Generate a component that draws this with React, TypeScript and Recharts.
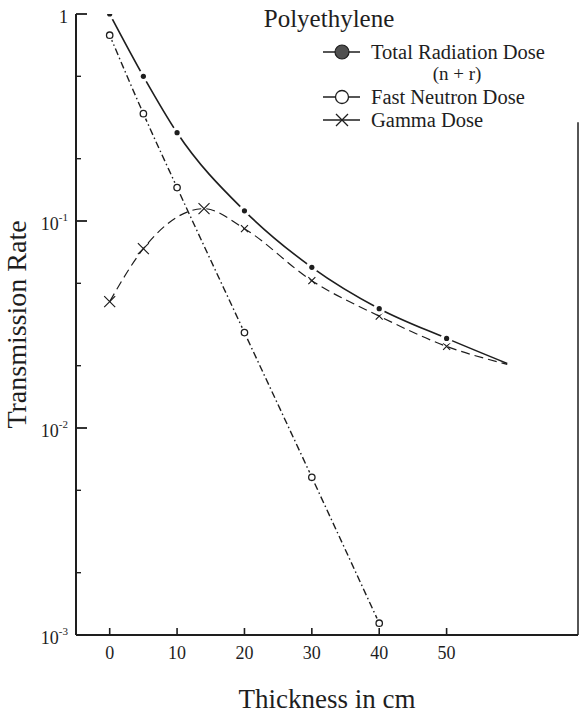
import { ComposedChart, Legend, Line, ReferenceLine, XAxis, YAxis } from 'recharts'

const FONT = "'Liberation Serif', 'Times New Roman', serif"
const INK = '#1e1e1e'

// thickness (cm) / transmission rate
const totalThickness = [0, 5, 10, 20, 30, 40, 50]
const totalRate = [1.0, 0.5, 0.267, 0.112, 0.0597, 0.0377, 0.0271]
const totalTail = [59, 0.0205]

const neutronThickness = [0, 5, 10, 20, 30, 40]
const neutronRate = [0.79, 0.33, 0.145, 0.0289, 0.00578, 0.00114]

const gammaThickness = [0, 5, 14, 20, 30, 40, 50]
const gammaRate = [0.0408, 0.0735, 0.1147, 0.0918, 0.0515, 0.0347, 0.0248]
const gammaTail = [59, 0.0203]

const seriesNames = ['Total Radiation Dose', 'Fast Neutron Dose', 'Gamma Dose']
const totalNote = '(n + r)'
const chartTitle = 'Polyethylene'

const thicknessTicks = [0, 10, 20, 30, 40, 50]
const rateTicks = [1, 0.5, 0.2, 0.1, 0.05, 0.02, 0.01, 0.005, 0.002, 0.001]
const rateMajor = [1, 0.1, 0.01, 0.001]
const rateLabelBase = ['1', '10', '10', '10']
const rateLabelExp = ['', '-1', '-2', '-3']
const rightTicks = [0.2, 0.1, 0.05, 0.02, 0.01, 0.005, 0.002]

const toRows = (xs: number[], ys: number[], tail?: number[]) => {
  const rows = xs.map((x, i) => ({ x, y: ys[i] }))
  if (tail) rows.push({ x: tail[0], y: tail[1] })
  return rows
}

const totalData = toRows(totalThickness, totalRate, totalTail)
const neutronData = toRows(neutronThickness, neutronRate)
const gammaData = toRows(gammaThickness, gammaRate, gammaTail)

const majorIndex = (v: number) => rateMajor.findIndex((m) => Math.abs(m - v) / m < 1e-6)

const LeftTick = (props: any) => {
  const { x, y, payload } = props
  const mi = majorIndex(payload.value)
  if (mi < 0) {
    return <line x1={x} x2={x + 5} y1={y} y2={y} stroke={INK} strokeWidth={1.4} />
  }
  return (
    <g>
      <line x1={x} x2={x + 11} y1={y} y2={y} stroke={INK} strokeWidth={1.8} />
      <text x={x - 8} y={y + 9} textAnchor="end" fontFamily={FONT} fontSize={18} fill={INK}>
        <tspan>{rateLabelBase[mi]}</tspan>
        {rateLabelExp[mi] && (
          <tspan fontSize={11} dy={-9}>
            {rateLabelExp[mi]}
          </tspan>
        )}
      </text>
    </g>
  )
}

const RightTick = (props: any) => {
  const { x, y, payload } = props
  const len = majorIndex(payload.value) < 0 ? 4 : 8
  return <line x1={x} x2={x - len} y1={y} y2={y} stroke={INK} strokeWidth={1.3} />
}

const BottomTick = (props: any) => {
  const { x, y, payload } = props
  return (
    <g>
      <line x1={x} x2={x} y1={y} y2={y - 7} stroke={INK} strokeWidth={1.6} />
      <text x={x} y={y + 24} textAnchor="middle" fontFamily={FONT} fontSize={18} fill={INK}>
        {payload.value}
      </text>
    </g>
  )
}

const XTitle = (props: any) => {
  const vb = props.viewBox || { x: 76, y: 635, width: 502 }
  return (
    <text x={vb.x + vb.width / 2} y={vb.y + 73} textAnchor="middle" fontFamily={FONT} fontSize={27} fill={INK}>
      Thickness in cm
    </text>
  )
}

const YTitle = (props: any) => {
  const vb = props.viewBox || { x: 0, y: 14, height: 621 }
  const cx = (vb.x || 0) + 26
  const cy = vb.y + vb.height / 2
  return (
    <text x={cx} y={cy} transform={`rotate(-90 ${cx} ${cy})`} textAnchor="middle" fontFamily={FONT} fontSize={28} fill={INK}>
      Transmission Rate
    </text>
  )
}

const TotalDot = (props: any) => {
  const { cx, cy, index } = props
  if (index >= totalThickness.length) return <g key={`td${index}`} />
  return (
    <g key={`td${index}`}>
      <circle cx={cx} cy={cy} r={6} fill="#fff" />
      <circle cx={cx} cy={cy} r={2.6} fill={INK} />
    </g>
  )
}

const NeutronDot = (props: any) => {
  const { cx, cy, index } = props
  return (
    <g key={`nd${index}`}>
      <circle cx={cx} cy={cy} r={5.5} fill="#fff" />
      <circle cx={cx} cy={cy} r={3.2} fill="#fff" stroke={INK} strokeWidth={1.3} />
    </g>
  )
}

const GammaDot = (props: any) => {
  const { cx, cy, index } = props
  if (index >= gammaThickness.length) return <g key={`gd${index}`} />
  const h = index <= 2 ? 5.5 : 3.5
  return (
    <path
      key={`gd${index}`}
      d={`M${cx - h},${cy - h}L${cx + h},${cy + h}M${cx - h},${cy + h}L${cx + h},${cy - h}`}
      stroke={INK}
      strokeWidth={1.2}
    />
  )
}

const LegendBox = () => {
  const mx = 342
  const rows = [52, 97, 120]
  return (
    <svg width={580} height={134} style={{ display: 'block' }}>
      <text x={329} y={27} textAnchor="middle" fontFamily={FONT} fontSize={25} fill={INK}>
        {chartTitle}
      </text>
      {rows.map((ry, i) => (
        <g key={i}>
          <line x1={323} x2={360} y1={ry} y2={ry} stroke={INK} strokeWidth={1.4} />
          {i === 0 && <circle cx={mx} cy={ry} r={7} fill="#505050" stroke={INK} strokeWidth={1.2} />}
          {i === 1 && <circle cx={mx} cy={ry} r={6.5} fill="#fff" stroke={INK} strokeWidth={1.3} />}
          {i === 2 && (
            <path
              d={`M${mx - 6},${ry - 6}L${mx + 6},${ry + 6}M${mx - 6},${ry + 6}L${mx + 6},${ry - 6}`}
              stroke={INK}
              strokeWidth={1.3}
            />
          )}
          <text x={371} y={ry + 7} fontFamily={FONT} fontSize={20.5} fill={INK}>
            {seriesNames[i]}
          </text>
        </g>
      ))}
      <text x={457} y={80} textAnchor="middle" fontFamily={FONT} fontSize={19} fill={INK}>
        {totalNote}
      </text>
    </svg>
  )
}

export default function App() {
  return (
    <div style={{ position: 'absolute', left: 0, top: 0, width: 580, height: 714, background: '#fff' }}>
      <ComposedChart width={580} height={714} margin={{ top: 14, right: 2, bottom: 0, left: 0 }}>
        <XAxis
          type="number"
          dataKey="x"
          domain={[-5, 69.5]}
          ticks={thicknessTicks}
          interval={0}
          height={79}
          tickSize={0}
          tickMargin={0}
          tickLine={false}
          tick={<BottomTick />}
          axisLine={{ stroke: INK, strokeWidth: 2 }}
          allowDataOverflow
          label={<XTitle />}
        />
        <YAxis
          type="number"
          dataKey="y"
          scale="log"
          domain={[0.001, 1]}
          ticks={rateTicks}
          interval={0}
          width={76}
          tickSize={0}
          tickMargin={0}
          tickLine={false}
          tick={<LeftTick />}
          axisLine={{ stroke: INK, strokeWidth: 2 }}
          allowDataOverflow
          label={<YTitle />}
        />
        <YAxis
          yAxisId="right"
          orientation="right"
          type="number"
          scale="log"
          domain={[0.001, 1]}
          ticks={rightTicks}
          interval={0}
          width={0}
          tickSize={0}
          tickMargin={0}
          tickLine={false}
          tick={<RightTick />}
          axisLine={false}
          allowDataOverflow
        />
        <ReferenceLine
          segment={[
            { x: 69.5, y: 0.3 },
            { x: 69.5, y: 0.001 },
          ]}
          stroke={INK}
          strokeWidth={1.5}
          ifOverflow="visible"
        />
        <Line
          data={gammaData}
          dataKey="y"
          name={seriesNames[2]}
          type="monotone"
          stroke={INK}
          strokeWidth={1.2}
          strokeDasharray="9 5"
          dot={GammaDot}
          activeDot={false}
          isAnimationActive={false}
        />
        <Line
          data={neutronData}
          dataKey="y"
          name={seriesNames[1]}
          type="monotone"
          stroke={INK}
          strokeWidth={1.4}
          strokeDasharray="7 3 1.5 3"
          dot={NeutronDot}
          activeDot={false}
          isAnimationActive={false}
        />
        <Line
          data={totalData}
          dataKey="y"
          name={seriesNames[0]}
          type="monotone"
          stroke={INK}
          strokeWidth={1.6}
          dot={TotalDot}
          activeDot={false}
          isAnimationActive={false}
        />
        <Legend
          layout="horizontal"
          verticalAlign="middle"
          align="center"
          content={<LegendBox />}
          wrapperStyle={{ position: 'absolute', top: 0, left: 0, width: 580, height: 134, pointerEvents: 'none' }}
        />
      </ComposedChart>
    </div>
  )
}
